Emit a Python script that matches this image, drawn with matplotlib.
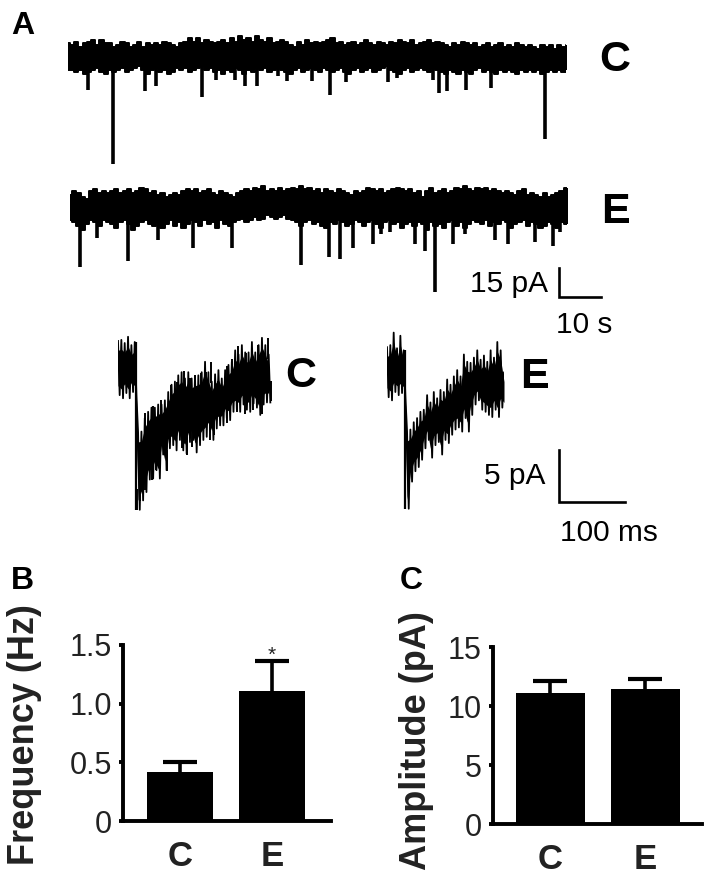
import numpy as np
import matplotlib
matplotlib.use('Agg')
import matplotlib.pyplot as plt

plt.rcParams['font.family'] = ['Liberation Sans', 'DejaVu Sans']

W, H = 708, 880

# long recordings, envelope sampled every 1 s (pA from baseline)
long_c_top = [7, 6, 8, 5, 7, 8, 9, 6, 9, 7,
              7, 5, 6, 8, 7, 5, 6, 8, 5, 7,
              6, 7, 6, 8, 7, 6, 5, 7, 8, 10,
              8, 10, 7, 9, 8, 7, 8, 9, 7, 10,
              8, 11, 9, 10, 8, 11, 9, 8, 10, 7,
              8, 9, 8, 6, 5, 8, 6, 9, 7, 8,
              7, 8, 9, 10, 7, 8, 6, 7, 8, 6,
              7, 9, 7, 6, 8, 7, 6, 8, 7, 9,
              8, 7, 9, 6, 7, 8, 9, 7, 8, 7,
              6, 5, 7, 6, 8, 7, 6, 7, 5, 6,
              7, 5, 6, 7, 5, 6, 5, 7, 6, 5,
              6, 5, 4, 6, 5, 6, 4, 6, 5, 6]
long_c_bot = [-7, -7, -8, -7, -9, -8, -7, -6, -8, -9,
              -7, -8, -7, -6, -8, -7, -6, -5, -7, -9,
              -7, -6, -8, -7, -9, -8, -6, -7, -6, -8,
              -7, -6, -5, -7, -6, -8, -7, -9, -7, -8,
              -6, -7, -9, -7, -8, -6, -7, -6, -8, -7,
              -6, -7, -8, -9, -7, -6, -8, -7, -6, -7,
              -8, -6, -7, -8, -7, -6, -8, -9, -7, -6,
              -8, -7, -6, -8, -7, -6, -5, -7, -8, -9,
              -7, -6, -8, -7, -6, -7, -8, -6, -7, -8,
              -9, -7, -8, -9, -7, -8, -9, -7, -6, -8,
              -7, -8, -9, -7, -8, -7, -8, -9, -7, -8,
              -7, -8, -7, -9, -8, -7, -8, -7, -8, -7]
long_c_spike_t = [4.8, 10.7, 18.3, 20.9, 31.9, 35.2, 39.8, 42.1, 45, 50, 52.1,
                  58, 62.4, 66.2, 76.2, 78.3, 86.9, 88.3, 90.2, 94.8, 100.7, 113.6]
long_c_spike_a = [-17, -56, -18, -15, -21, -12, -12, -15, -15, -10, -12.5,
                  -12.5, -20, -13, -13, -11, -12, -19, -18, -17, -16, -43]

long_e_top = [5, 7, 6, 4, 3, 7, 8, 6, 7, 6,
              7, 8, 6, 7, 8, 6, 7, 9, 8, 6,
              7, 5, 6, 4, 5, 6, 5, 7, 8, 7,
              8, 6, 7, 8, 6, 5, 7, 6, 5, 4,
              6, 7, 8, 7, 9, 8, 10, 7, 8, 7,
              9, 7, 8, 9, 8, 10, 8, 9, 7, 8,
              6, 8, 7, 6, 8, 7, 6, 5, 7, 6,
              7, 9, 8, 7, 8, 6, 7, 8, 9, 8,
              7, 8, 6, 7, 4, 7, 9, 6, 7, 8,
              6, 7, 9, 8, 10, 8, 7, 9, 8, 9,
              7, 8, 7, 6, 7, 6, 5, 7, 8, 5,
              6, 5, 4, 6, 4, 5, 6, 7, 9, 7]
long_e_bot = [-8, -9, -11, -13, -10, -8, -9, -11, -8, -9,
              -10, -12, -9, -8, -10, -13, -11, -9, -8, -10,
              -11, -9, -12, -10, -8, -11, -9, -12, -10, -8,
              -9, -11, -8, -10, -9, -12, -8, -10, -11, -9,
              -8, -7, -9, -8, -6, -8, -7, -5, -6, -7,
              -6, -5, -7, -8, -9, -11, -9, -8, -10, -9,
              -11, -12, -9, -10, -8, -9, -11, -10, -8, -9,
              -11, -9, -8, -10, -12, -9, -8, -10, -9, -12,
              -10, -9, -11, -9, -10, -13, -9, -11, -10, -12,
              -9, -8, -11, -9, -12, -10, -8, -9, -10, -8,
              -11, -9, -10, -8, -9, -12, -10, -9, -8, -11,
              -9, -10, -12, -11, -9, -10, -12, -9, -10, -12]
long_e_spike_t = [2.4, 6.4, 13.8, 21, 29.3, 38.6, 55, 61.7, 64.3, 67.4, 72.1, 74,
                  76.2, 82.1, 84.5, 86.9, 91.2, 94, 101.2, 104.3, 110.7, 115, 116.7]
long_e_spike_a = [-32, -17, -29, -18, -22, -22, -31, -27, -28, -22, -20, -15,
                  -14, -20, -24, -45, -20, -15, -18, -20, -19, -21, -14]

# averaged events, envelope sampled every 5 ms (pA from baseline)
short_c_top = [2.5, 2.6, 2.3, 2.9, 2.1, 2.4, -6.3, -6.2, -4.9, -4.3,
               -3.9, -3.9, -3.6, -3.6, -3.2, -2.4, -1.7, -1.4, -0.8, -0.5,
               -1.1, -0.5, -1.1, -0.9, -0.8, -0.5, 0.5, -0.5, -1.4, -0.7,
               -0.3, -1.1, -0.3, 0.2, 0.5, 1.6, 1.2, 2.1, 1.4, 1.4,
               2.4, 1.4, 2.1, 2.8, 2.1, 1.2]
short_c_bot = [-2.7, -3, -2.5, -3, -2.4, -2.7, -13.7, -12.8, -12, -10.8,
               -10.7, -9.9, -10.7, -8.4, -9.9, -7.8, -7.5, -8, -7, -8,
               -8.3, -7.2, -7, -8.2, -7.5, -7, -6.7, -6.2, -7, -5.9,
               -5.6, -5.6, -4.9, -5.1, -4.3, -4.1, -4.3, -3.6, -4.1, -4.3,
               -3.5, -3.9, -4.6, -3.6, -3.4, -3.4]
short_c_up_t = [40.3, 51.8, 63.6, 78.6, 88.5, 98.5, 107.5, 115, 124, 131.5, 138.8,
                149.8, 162.3, 171, 178.6, 190.5, 199.5, 208.5, 223.4]
short_c_up_a = [-4.4, -3.7, -3.2, -1.7, -1.4, -0.4, -1.1, -0.8, -0.6, -0.5, 0.45,
                -1.3, 0.1, 0.8, 2, 1.3, 1.6, 2.1, 2.75]
short_c_down_t = [27.9, 32.8, 40.3, 50.2, 56.2, 72.6, 95, 102.5, 111, 137.3, 143.3,
                  162.2, 177.2, 189.6, 202, 214.4, 229]
short_c_down_a = [-13.7, -12.9, -11.8, -10.8, -9.9, -10, -7.8, -8.4, -7.7, -7, -6.5,
                  -5.4, -4.3, -4.5, -4.1, -4.5, -3.3]

short_e_top = [1.9, 2.1, 3.3, 1.8, 3, 1.6, -6.2, -6, -5.3, -4.9,
               -4.3, -4.1, -2.7, -3.4, -2.4, -3, -2.2, -2.4, -1.2, -1.7,
               -0.9, -0.3, -0.9, 1.2, 0.5, 0.4, 0.9, 1.6, 0.7, 1.1,
               0.5, 1.6, 0.9, 2.4, 1.6, -0.5]
short_e_bot = [-2.9, -3.2, -2.4, -2.7, -2.5, -2.8, -13.6, -11, -10, -9.6,
               -8.9, -7.8, -7, -8.7, -7.5, -7.2, -8.4, -7, -7.3, -6.5,
               -6, -5.8, -6.2, -4.9, -6.2, -4.6, -3.6, -3.2, -4.1, -4.3,
               -4.6, -4.8, -4.1, -4.8, -3.9, -4.3]

# bar panels
groups = ['C', 'E']
freq_mean = [0.42, 1.11]
freq_top = [0.50, 1.36]
freq_ticks = [0, 0.5, 1.0, 1.5]
freq_labels = ['0', '0.5', '1.0', '1.5']
amp_mean = [11.1, 11.4]
amp_top = [12.1, 12.3]
amp_ticks = [0, 5, 10, 15]


def px_axes(left, top, right, bottom):
    ax = fig.add_axes([left / W, 1 - bottom / H, (right - left) / W, (bottom - top) / H])
    return ax


def px_text(x, y, s, **kw):
    kw.setdefault('ha', 'center')
    kw.setdefault('va', 'center')
    kw.setdefault('color', 'black')
    fig.text(x / W, 1 - y / H, s, **kw)


def long_trace(box, xlim, ylim, top, bot, spike_t, spike_a):
    ax = px_axes(*box)
    t = np.arange(len(top)) * 1.0
    ax.fill_between(t, bot, top, step='mid', color='black', lw=0)
    ax.plot(t, top, drawstyle='steps-mid', color='black', lw=1.4)
    ax.plot(t, bot, drawstyle='steps-mid', color='black', lw=1.4)
    ax.vlines(spike_t, -5, spike_a, color='black', lw=2.6)
    ax.set_xlim(*xlim)
    ax.set_ylim(*ylim)
    ax.axis('off')
    return ax


def short_trace(box, xlim, ylim, top, bot, up_t=(), up_a=(), down_t=(), down_a=()):
    # thin zigzag between envelope samples, over a narrower solid band
    ax = px_axes(*box)
    t = np.arange(len(top)) * 5.0
    top = np.array(top)
    bot = np.array(bot)
    ax.fill_between(t, bot + 0.9, top - 0.9, color='black', lw=0)
    zig_t = np.ravel(np.column_stack([t, t + 2.5]))
    zig_y = np.ravel(np.column_stack([top, bot]))
    ax.plot(zig_t, zig_y, color='black', lw=1.3)
    ax.vlines(t[5] + 2.5, bot[6], top[5], color='black', lw=1.6)
    ax.vlines(up_t, np.array(up_a) - 2, up_a, color='black', lw=1.4)
    ax.vlines(down_t, down_a, np.array(down_a) + 2, color='black', lw=1.4)
    ax.set_xlim(*xlim)
    ax.set_ylim(*ylim)
    ax.axis('off')
    return ax


def bar_panel(box, xlim, ylim, width, means, tops, ticks, ticklabels, cap):
    ax = px_axes(*box)
    x = np.arange(len(means))
    ax.spines['bottom'].set_position(('data', 0))
    errs = np.array(tops) - np.array(means)
    ax.errorbar(x, means, yerr=errs, fmt='none', ecolor='black',
                elinewidth=2.6, capsize=cap, capthick=3, zorder=1)
    ax.bar(x, means, width=width, color='black', zorder=2)
    ax.set_xlim(*xlim)
    ax.set_ylim(*ylim)
    ax.set_xticks(x)
    ax.set_xticklabels(groups, fontsize=25, fontweight='bold', color='#222222')
    ax.set_yticks(ticks)
    ax.set_yticklabels(ticklabels, fontsize=22, color='#222222')
    ax.tick_params(axis='x', length=0, pad=14)
    ax.tick_params(axis='y', length=3, width=2.8, pad=5)
    for side in ['top', 'right']:
        ax.spines[side].set_visible(False)
    ax.spines['left'].set_linewidth(2.8)
    ax.spines['bottom'].set_linewidth(2.8)
    return ax


fig = plt.figure(figsize=(W / 100, H / 100), dpi=100)

# Panel A long traces
long_trace((68, 30, 566, 170), (0, 118.6), (-58.9, 14), long_c_top, long_c_bot,
           long_c_spike_t, long_c_spike_a)
ax_e = long_trace((70, 180, 567, 300), (0, 118.3), (-49.1, 12.9), long_e_top, long_e_bot,
                  long_e_spike_t, long_e_spike_a)
# 10 s / 15 pA scale bar
ax_e.plot([116.4, 116.4, 126.4], [-32.6, -47.6, -47.6], color='black', lw=1.9,
          clip_on=False, solid_joinstyle='miter')

# Panel A averaged events
short_trace((118, 330, 272, 515), (0, 230), (-14.2, 3.55), short_c_top, short_c_bot,
            short_c_up_t, short_c_up_a, short_c_down_t, short_c_down_a)
ax_s = short_trace((387, 330, 504, 515), (0, 175), (-14.2, 3.55), short_e_top, short_e_bot)
# 100 ms / 5 pA scale bar
ax_s.plot([256.7, 256.7, 356.7], [-8, -13, -13], color='black', lw=1.9,
          clip_on=False, solid_joinstyle='miter')

# Panel B
ax_b = bar_panel((123, 645, 331, 821), (-0.62, 1.64), (0, 1.5), 0.72, freq_mean, freq_top,
                 freq_ticks, freq_labels, 12)
ax_b.text(1, 1.41, '*', ha='center', va='center', fontsize=15, color='#222222')

# Panel C
bar_panel((493, 647, 702, 824), (-0.605, 1.595), (0, 15), 0.726, amp_mean, amp_top,
          amp_ticks, [str(v) for v in amp_ticks], 12)

# labels
px_text(23, 26, 'A', fontsize=23, fontweight='bold')
px_text(22, 581, 'B', fontsize=23, fontweight='bold')
px_text(411, 581, 'C', fontsize=23, fontweight='bold')
px_text(615, 60, 'C', fontsize=31, fontweight='bold')
px_text(615, 212, 'E', fontsize=31, fontweight='bold')
px_text(301, 376, 'C', fontsize=31, fontweight='bold')
px_text(534, 377, 'E', fontsize=31, fontweight='bold')
px_text(509, 284, '15 pA', fontsize=21.5)
px_text(584, 325, '10 s', fontsize=21.5)
px_text(515, 476, '5 pA', fontsize=21.5)
px_text(609, 533, '100 ms', fontsize=21.5)
px_text(25, 735, 'Frequency (Hz)', fontsize=26, fontweight='bold', rotation=90, color='#222222')
px_text(417, 741, 'Amplitude (pA)', fontsize=26, fontweight='bold', rotation=90, color='#222222')

fig.savefig('out.png', dpi=100)
plt.close()
